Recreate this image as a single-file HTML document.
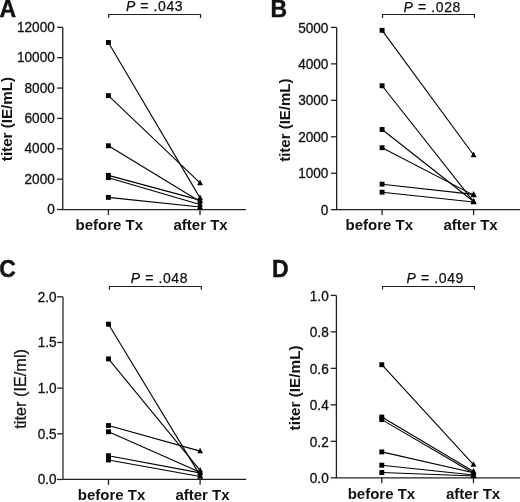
<!DOCTYPE html>
<html><head><meta charset="utf-8"><style>
html,body{margin:0;padding:0;background:#fff;}
body{width:520px;height:502px;overflow:hidden;font-family:"Liberation Sans", sans-serif;}
svg{display:block;will-change:transform;}
</style></head><body>
<svg width="520" height="502" viewBox="0 0 520 502" font-family='"Liberation Sans", sans-serif' fill="#111"><g><text x="-0.6" y="16.8" font-size="23" font-weight="bold" stroke="#111" stroke-width="0.4">A</text><path d="M62.75,27.3V209.55H246" fill="none" stroke="#222" stroke-width="1.3"/><path d="M57.05,209.55H62.75" stroke="#222" stroke-width="1.3"/><text transform="translate(54.8,214.05) scale(1,1.06)" font-size="13.6" text-anchor="end" stroke="#111" stroke-width="0.3">0</text><path d="M57.05,179.18H62.75" stroke="#222" stroke-width="1.3"/><text transform="translate(54.8,183.68) scale(1,1.06)" font-size="13.6" text-anchor="end" stroke="#111" stroke-width="0.3">2000</text><path d="M57.05,148.80H62.75" stroke="#222" stroke-width="1.3"/><text transform="translate(54.8,153.30) scale(1,1.06)" font-size="13.6" text-anchor="end" stroke="#111" stroke-width="0.3">4000</text><path d="M57.05,118.43H62.75" stroke="#222" stroke-width="1.3"/><text transform="translate(54.8,122.93) scale(1,1.06)" font-size="13.6" text-anchor="end" stroke="#111" stroke-width="0.3">6000</text><path d="M57.05,88.05H62.75" stroke="#222" stroke-width="1.3"/><text transform="translate(54.8,92.55) scale(1,1.06)" font-size="13.6" text-anchor="end" stroke="#111" stroke-width="0.3">8000</text><path d="M57.05,57.68H62.75" stroke="#222" stroke-width="1.3"/><text transform="translate(54.8,62.18) scale(1,1.06)" font-size="13.6" text-anchor="end" stroke="#111" stroke-width="0.3">10000</text><path d="M57.05,27.30H62.75" stroke="#222" stroke-width="1.3"/><text transform="translate(54.8,31.80) scale(1,1.06)" font-size="13.6" text-anchor="end" stroke="#111" stroke-width="0.3">12000</text><path d="M108.4,209.55V214.95000000000002" stroke="#222" stroke-width="1.3"/><path d="M200,209.55V214.95000000000002" stroke="#222" stroke-width="1.3"/><text x="75.5" y="230.1" font-size="15" font-weight="bold">before Tx</text><text x="173.5" y="230.1" font-size="15" font-weight="bold">after Tx</text><text transform="translate(12.4,119.0) rotate(-90) scale(1,0.93)" x="0" y="0" font-size="15.2" font-weight="bold" text-anchor="middle">titer (IE/mL)</text><path d="M108.7,18.0V14.5H200.5V18.0" fill="none" stroke="#222" stroke-width="1.2"/><text x="125.9" y="11.0" font-size="14" letter-spacing="0.6" stroke="#111" stroke-width="0.25"><tspan font-style="italic">P</tspan> = .043</text><path d="M108.4,42.49L200,197.86" stroke="#000" stroke-width="1.1"/><path d="M108.4,95.64L200,182.97" stroke="#000" stroke-width="1.1"/><path d="M108.4,145.76L200,201.50" stroke="#000" stroke-width="1.1"/><path d="M108.4,175.38L200,200.13" stroke="#000" stroke-width="1.1"/><path d="M108.4,177.66L200,204.54" stroke="#000" stroke-width="1.1"/><path d="M108.4,197.40L200,206.97" stroke="#000" stroke-width="1.1"/><rect x="105.95" y="40.04" width="4.9" height="4.9" fill="#000"/><path d="M197.10,200.06L200.00,194.46L202.90,200.06Z" fill="#000"/><rect x="105.95" y="93.19" width="4.9" height="4.9" fill="#000"/><path d="M197.10,185.17L200.00,179.57L202.90,185.17Z" fill="#000"/><rect x="105.95" y="143.31" width="4.9" height="4.9" fill="#000"/><path d="M197.10,203.70L200.00,198.10L202.90,203.70Z" fill="#000"/><rect x="105.95" y="172.93" width="4.9" height="4.9" fill="#000"/><path d="M197.10,202.33L200.00,196.73L202.90,202.33Z" fill="#000"/><rect x="105.95" y="175.21" width="4.9" height="4.9" fill="#000"/><path d="M197.10,206.74L200.00,201.14L202.90,206.74Z" fill="#000"/><rect x="105.95" y="194.95" width="4.9" height="4.9" fill="#000"/><path d="M197.10,209.17L200.00,203.57L202.90,209.17Z" fill="#000"/></g>
<g><text x="270.5" y="16.8" font-size="23" font-weight="bold" stroke="#111" stroke-width="0.4">B</text><path d="M336.65,27.4V209.7H520" fill="none" stroke="#222" stroke-width="1.3"/><path d="M330.95,209.70H336.65" stroke="#222" stroke-width="1.3"/><text transform="translate(328.4,214.80) scale(1,1.06)" font-size="13.6" text-anchor="end" stroke="#111" stroke-width="0.3">0</text><path d="M330.95,173.24H336.65" stroke="#222" stroke-width="1.3"/><text transform="translate(328.4,178.34) scale(1,1.06)" font-size="13.6" text-anchor="end" stroke="#111" stroke-width="0.3">1000</text><path d="M330.95,136.78H336.65" stroke="#222" stroke-width="1.3"/><text transform="translate(328.4,141.88) scale(1,1.06)" font-size="13.6" text-anchor="end" stroke="#111" stroke-width="0.3">2000</text><path d="M330.95,100.32H336.65" stroke="#222" stroke-width="1.3"/><text transform="translate(328.4,105.42) scale(1,1.06)" font-size="13.6" text-anchor="end" stroke="#111" stroke-width="0.3">3000</text><path d="M330.95,63.86H336.65" stroke="#222" stroke-width="1.3"/><text transform="translate(328.4,68.96) scale(1,1.06)" font-size="13.6" text-anchor="end" stroke="#111" stroke-width="0.3">4000</text><path d="M330.95,27.40H336.65" stroke="#222" stroke-width="1.3"/><text transform="translate(328.4,32.50) scale(1,1.06)" font-size="13.6" text-anchor="end" stroke="#111" stroke-width="0.3">5000</text><path d="M382.1,209.7V215.1" stroke="#222" stroke-width="1.3"/><path d="M473.6,209.7V215.1" stroke="#222" stroke-width="1.3"/><text x="345.5" y="230.1" font-size="15" font-weight="bold">before Tx</text><text x="443.5" y="230.1" font-size="15" font-weight="bold">after Tx</text><text transform="translate(289.5,120.2) rotate(-90) scale(1,0.93)" x="0" y="0" font-size="15" font-weight="bold" text-anchor="middle">titer (IE/mL)</text><path d="M382.5,18.0V14.5H474.4V18.0" fill="none" stroke="#222" stroke-width="1.2"/><text x="403.6" y="12.0" font-size="14" letter-spacing="0.6" stroke="#111" stroke-width="0.25"><tspan font-style="italic">P</tspan> = .028</text><path d="M382.1,30.32L473.6,155.01" stroke="#000" stroke-width="1.1"/><path d="M382.1,85.74L473.6,201.68" stroke="#000" stroke-width="1.1"/><path d="M382.1,129.49L473.6,201.50" stroke="#000" stroke-width="1.1"/><path d="M382.1,147.72L473.6,195.12" stroke="#000" stroke-width="1.1"/><path d="M382.1,184.18L473.6,194.39" stroke="#000" stroke-width="1.1"/><path d="M382.1,192.20L473.6,202.04" stroke="#000" stroke-width="1.1"/><rect x="379.65" y="27.87" width="4.9" height="4.9" fill="#000"/><path d="M470.70,157.21L473.60,151.61L476.50,157.21Z" fill="#000"/><rect x="379.65" y="83.29" width="4.9" height="4.9" fill="#000"/><path d="M470.70,203.88L473.60,198.28L476.50,203.88Z" fill="#000"/><rect x="379.65" y="127.04" width="4.9" height="4.9" fill="#000"/><path d="M470.70,203.70L473.60,198.10L476.50,203.70Z" fill="#000"/><rect x="379.65" y="145.27" width="4.9" height="4.9" fill="#000"/><path d="M470.70,197.32L473.60,191.72L476.50,197.32Z" fill="#000"/><rect x="379.65" y="181.73" width="4.9" height="4.9" fill="#000"/><path d="M470.70,196.59L473.60,190.99L476.50,196.59Z" fill="#000"/><rect x="379.65" y="189.75" width="4.9" height="4.9" fill="#000"/><path d="M470.70,204.24L473.60,198.64L476.50,204.24Z" fill="#000"/></g>
<g><text x="-0.8" y="277" font-size="23" font-weight="bold" stroke="#111" stroke-width="0.4">C</text><path d="M63.0,296.8V479.45" fill="none" stroke="#666" stroke-width="1.8"/><path d="M62.8,479.45H246.2" fill="none" stroke="#222" stroke-width="1.3"/><path d="M57.099999999999994,479.45H62.8" stroke="#222" stroke-width="1.3"/><text transform="translate(56.6,484.35) scale(1,1.06)" font-size="13.6" text-anchor="end" stroke="#111" stroke-width="0.3">0.0</text><path d="M57.099999999999994,433.79H62.8" stroke="#222" stroke-width="1.3"/><text transform="translate(56.6,438.69) scale(1,1.06)" font-size="13.6" text-anchor="end" stroke="#111" stroke-width="0.3">0.5</text><path d="M57.099999999999994,388.12H62.8" stroke="#222" stroke-width="1.3"/><text transform="translate(56.6,393.02) scale(1,1.06)" font-size="13.6" text-anchor="end" stroke="#111" stroke-width="0.3">1.0</text><path d="M57.099999999999994,342.46H62.8" stroke="#222" stroke-width="1.3"/><text transform="translate(56.6,347.36) scale(1,1.06)" font-size="13.6" text-anchor="end" stroke="#111" stroke-width="0.3">1.5</text><path d="M57.099999999999994,296.80H62.8" stroke="#222" stroke-width="1.3"/><text transform="translate(56.6,301.70) scale(1,1.06)" font-size="13.6" text-anchor="end" stroke="#111" stroke-width="0.3">2.0</text><path d="M108.5,479.45V484.84999999999997" stroke="#222" stroke-width="1.3"/><path d="M200.1,479.45V484.84999999999997" stroke="#222" stroke-width="1.3"/><text x="77.8" y="499.6" font-size="15" font-weight="bold">before Tx</text><text x="175.4" y="499.6" font-size="15" font-weight="bold">after Tx</text><text transform="translate(25.8,388.9) rotate(-90) scale(1,0.97)" x="0" y="0" font-size="16.3" font-weight="normal" text-anchor="middle" stroke="#111" stroke-width="0.25">titer (IE/ml)</text><path d="M109.4,289.8V286.5H201.3V289.8" fill="none" stroke="#222" stroke-width="1.2"/><text x="130.7" y="283.4" font-size="14" letter-spacing="0.6" stroke="#111" stroke-width="0.25"><tspan font-style="italic">P</tspan> = .048</text><path d="M108.5,324.20L200.1,475.34" stroke="#000" stroke-width="1.1"/><path d="M108.5,358.90L200.1,470.32" stroke="#000" stroke-width="1.1"/><path d="M108.5,425.57L200.1,451.14" stroke="#000" stroke-width="1.1"/><path d="M108.5,431.78L200.1,472.33" stroke="#000" stroke-width="1.1"/><path d="M108.5,455.71L200.1,472.87" stroke="#000" stroke-width="1.1"/><path d="M108.5,460.00L200.1,476.53" stroke="#000" stroke-width="1.1"/><rect x="106.05" y="321.75" width="4.9" height="4.9" fill="#000"/><path d="M197.20,477.54L200.10,471.94L203.00,477.54Z" fill="#000"/><rect x="106.05" y="356.45" width="4.9" height="4.9" fill="#000"/><path d="M197.20,472.52L200.10,466.92L203.00,472.52Z" fill="#000"/><rect x="106.05" y="423.12" width="4.9" height="4.9" fill="#000"/><path d="M197.20,453.34L200.10,447.74L203.00,453.34Z" fill="#000"/><rect x="106.05" y="429.33" width="4.9" height="4.9" fill="#000"/><path d="M197.20,474.53L200.10,468.93L203.00,474.53Z" fill="#000"/><rect x="106.05" y="453.26" width="4.9" height="4.9" fill="#000"/><path d="M197.20,475.07L200.10,469.47L203.00,475.07Z" fill="#000"/><rect x="106.05" y="457.55" width="4.9" height="4.9" fill="#000"/><path d="M197.20,478.73L200.10,473.13L203.00,478.73Z" fill="#000"/></g>
<g><text x="272.0" y="277" font-size="23" font-weight="bold" stroke="#111" stroke-width="0.4">D</text><path d="M336.4,295.4V477.8H520" fill="none" stroke="#222" stroke-width="1.3"/><path d="M330.7,477.80H336.4" stroke="#222" stroke-width="1.3"/><text transform="translate(328.7,483.10) scale(1,1.06)" font-size="13.6" text-anchor="end" stroke="#111" stroke-width="0.3">0.0</text><path d="M330.7,441.32H336.4" stroke="#222" stroke-width="1.3"/><text transform="translate(328.7,446.62) scale(1,1.06)" font-size="13.6" text-anchor="end" stroke="#111" stroke-width="0.3">0.2</text><path d="M330.7,404.84H336.4" stroke="#222" stroke-width="1.3"/><text transform="translate(328.7,410.14) scale(1,1.06)" font-size="13.6" text-anchor="end" stroke="#111" stroke-width="0.3">0.4</text><path d="M330.7,368.36H336.4" stroke="#222" stroke-width="1.3"/><text transform="translate(328.7,373.66) scale(1,1.06)" font-size="13.6" text-anchor="end" stroke="#111" stroke-width="0.3">0.6</text><path d="M330.7,331.88H336.4" stroke="#222" stroke-width="1.3"/><text transform="translate(328.7,337.18) scale(1,1.06)" font-size="13.6" text-anchor="end" stroke="#111" stroke-width="0.3">0.8</text><path d="M330.7,295.40H336.4" stroke="#222" stroke-width="1.3"/><text transform="translate(328.7,300.70) scale(1,1.06)" font-size="13.6" text-anchor="end" stroke="#111" stroke-width="0.3">1.0</text><path d="M381.8,477.8V483.2" stroke="#222" stroke-width="1.3"/><path d="M473.5,477.8V483.2" stroke="#222" stroke-width="1.3"/><text x="347.7" y="499.0" font-size="15" font-weight="bold">before Tx</text><text x="446.0" y="499.0" font-size="15" font-weight="bold">after Tx</text><text transform="translate(299.8,387.9) rotate(-90) scale(1,0.93)" x="0" y="0" font-size="15.3" font-weight="bold" text-anchor="middle">titer (IE/mL)</text><path d="M382.5,289.6V286.5H474.4V289.6" fill="none" stroke="#222" stroke-width="1.2"/><text x="406.6" y="283.4" font-size="14" letter-spacing="0.6" stroke="#111" stroke-width="0.25"><tspan font-style="italic">P</tspan> = .049</text><path d="M381.8,364.71L473.5,464.67" stroke="#000" stroke-width="1.1"/><path d="M381.8,417.06L473.5,471.42" stroke="#000" stroke-width="1.1"/><path d="M381.8,419.61L473.5,473.24" stroke="#000" stroke-width="1.1"/><path d="M381.8,451.90L473.5,472.69" stroke="#000" stroke-width="1.1"/><path d="M381.8,465.21L473.5,475.06" stroke="#000" stroke-width="1.1"/><path d="M381.8,472.51L473.5,475.98" stroke="#000" stroke-width="1.1"/><rect x="379.35" y="362.26" width="4.9" height="4.9" fill="#000"/><path d="M470.60,466.87L473.50,461.27L476.40,466.87Z" fill="#000"/><rect x="379.35" y="414.61" width="4.9" height="4.9" fill="#000"/><path d="M470.60,473.62L473.50,468.02L476.40,473.62Z" fill="#000"/><rect x="379.35" y="417.16" width="4.9" height="4.9" fill="#000"/><path d="M470.60,475.44L473.50,469.84L476.40,475.44Z" fill="#000"/><rect x="379.35" y="449.45" width="4.9" height="4.9" fill="#000"/><path d="M470.60,474.89L473.50,469.29L476.40,474.89Z" fill="#000"/><rect x="379.35" y="462.76" width="4.9" height="4.9" fill="#000"/><path d="M470.60,477.26L473.50,471.66L476.40,477.26Z" fill="#000"/><rect x="379.35" y="470.06" width="4.9" height="4.9" fill="#000"/><path d="M470.60,478.18L473.50,472.58L476.40,478.18Z" fill="#000"/></g></svg>
</body></html>
